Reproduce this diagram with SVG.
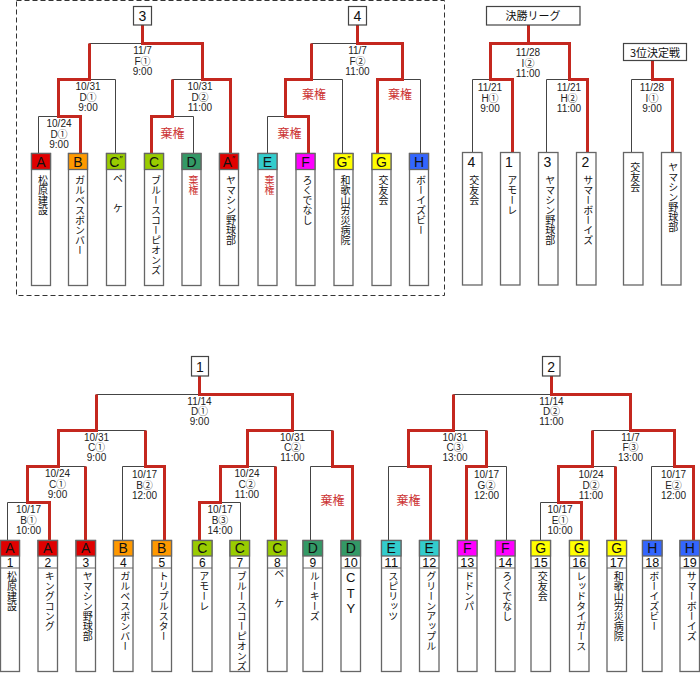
<svg xmlns="http://www.w3.org/2000/svg" width="700" height="673" viewBox="0 0 700 673">
<style>
.t{stroke:#444;stroke-width:1;fill:none}
.r{stroke:#c4281f;stroke-width:3;fill:none;stroke-linejoin:miter}
.bx{fill:#fff;stroke:#666;stroke-width:1.3}
.tb{fill:#fff;stroke:#444;stroke-width:1.2}
.dl{stroke:#666;stroke-width:1}
.d{font-family:"Liberation Sans","Noto Sans CJK JP",sans-serif;font-size:10px;fill:#222;text-anchor:middle}
.k{font-family:"Noto Sans CJK JP",sans-serif;font-size:12px;fill:#cc3333;text-anchor:middle}
.nm{font-family:"Noto Sans CJK JP",sans-serif;font-size:10px;fill:#111;writing-mode:vertical-rl;transform:translate(2px,0)}
.kn{fill:#cc3333}
.lt{font-family:"Liberation Sans",sans-serif;font-size:14px;fill:#111;text-anchor:middle}
.cty{font-family:"Liberation Sans",sans-serif;font-size:13px;fill:#111;text-anchor:middle}
.num{font-family:"Liberation Sans",sans-serif;font-size:12px;fill:#111;text-anchor:middle}
.ti{font-family:"Liberation Sans","Noto Sans CJK JP",sans-serif;font-size:14px;fill:#111;text-anchor:middle}
.tj{font-family:"Noto Sans CJK JP",sans-serif;font-size:11px;fill:#111;text-anchor:middle}
.cA{fill:#e00000;stroke:#666;stroke-width:1.3}
.cB{fill:#ff9900;stroke:#666;stroke-width:1.3}
.cC{fill:#99cc00;stroke:#666;stroke-width:1.3}
.cD{fill:#339966;stroke:#666;stroke-width:1.3}
.cE{fill:#33cccc;stroke:#666;stroke-width:1.3}
.cF{fill:#ff00ff;stroke:#666;stroke-width:1.3}
.cG{fill:#ffff00;stroke:#666;stroke-width:1.3}
.cH{fill:#3366ff;stroke:#666;stroke-width:1.3}
.sup{font-size:9px}
</style>
<rect x="0" y="0" width="700" height="673" fill="#fff"/>
<rect x="16.5" y="0.5" width="428" height="295" fill="none" stroke="#333" stroke-width="1" stroke-dasharray="5,3"/>

<g id="connectors">
<path class="t" d="M142.5 25V43.5M89.5 43.5H202.5M89.5 43.5V79.5M58.5 79.5H115.5V153M58.5 79.5V116.5M38.5 153V116.5H80.5V153M202.5 43.5V79.5M172.5 79.5H230.5V153M172.5 79.5V116.5M151.5 153V116.5H193.5V153"/>
<path class="t" d="M357.5 25V43.5M311.5 43.5H402.5M311.5 43.5V79.5M285.5 79.5H342.5V153M285.5 79.5V116.5M267.5 153V116.5H308.5V153M402.5 43.5V79.5M377.5 153V79.5H420.5V153"/>
<path class="t" d="M528.5 25V43.5M490.5 43.5H569.5M490.5 43.5V79.5M472.5 152V79.5H512.5V152M569.5 43.5V79.5M546.5 152V79.5H587.5V152M652.5 60.5V79.5M631.5 152V79.5H672.5V152"/>
<path class="t" d="M199.5 376V394.5M96.5 394.5H292.5M96.5 394.5V430.5M58.5 430.5H145.5M58.5 430.5V466.5M27.5 466.5H85.5V540M27.5 466.5V502.5M7.5 540V502.5H49.5V540M145.5 430.5V466.5M122.5 540V466.5H164.5V540M292.5 394.5V430.5M247.5 430.5H332.5M247.5 430.5V466.5M220.5 466.5H275.5V540M220.5 466.5V502.5M199.5 540V502.5H240.5V540M332.5 430.5V466.5M310.5 540V466.5H352.5V540"/>
<path class="t" d="M551.5 376V394.5M453.5 394.5H630.5M453.5 394.5V430.5M408.5 430.5H486.5M408.5 430.5V466.5M388.5 540V466.5H430.5V540M486.5 430.5V466.5M466.5 540V466.5H506.5V540M630.5 394.5V430.5M592.5 430.5H674.5M592.5 430.5V466.5M558.5 466.5H615.5V540M558.5 466.5V502.5M540.5 540V502.5H581.5V540M674.5 430.5V466.5M651.5 540V466.5H693.5V540"/>
<path class="r" d="M80.5 153V116.5H58.5V79.5H89.5V43.5"/>
<path class="r" d="M230.5 153V79.5H202.5V43.5H142.5V25"/>
<path class="r" d="M151.5 153V116.5H172.5V79.5"/>
<path class="r" d="M308.5 153V116.5H285.5V79.5H311.5V43.5"/>
<path class="r" d="M377.5 153V79.5H402.5V43.5H357.5V25"/>
<path class="r" d="M528.5 25V43.5"/>
<path class="r" d="M512.5 152V79.5H490.5V43.5H569.5V79.5H587.5V152"/>
<path class="r" d="M652.5 60.5V79.5H672.5V152"/>
<path class="r" d="M199.5 540V502.5H220.5V466.5H247.5V430.5H292.5V394.5H199.5V376"/>
<path class="r" d="M49.5 540V502.5H27.5V466.5H58.5V430.5H96.5V394.5"/>
<path class="r" d="M85.5 540V466.5"/>
<path class="r" d="M164.5 540V466.5H145.5V430.5"/>
<path class="r" d="M275.5 540V466.5"/>
<path class="r" d="M352.5 540V466.5H332.5V430.5"/>
<path class="r" d="M693.5 540V466.5H674.5V430.5H630.5V394.5H551.5V376"/>
<path class="r" d="M430.5 540V466.5H408.5V430.5H453.5V394.5"/>
<path class="r" d="M466.5 540V466.5H486.5V430.5"/>
<path class="r" d="M581.5 540V502.5H558.5V466.5H592.5V430.5"/>
<path class="r" d="M615.5 540V466.5"/>
</g>

<g id="match-labels">
<text class="d" x="142.5" y="54">11/7</text><text class="d" x="142.5" y="64.5">F①</text><text class="d" x="142.5" y="75">9:00</text>
<text class="d" x="88" y="90">10/31</text><text class="d" x="88" y="100.5">D①</text><text class="d" x="88" y="111">9:00</text>
<text class="d" x="59" y="127">10/24</text><text class="d" x="59" y="137.5">D①</text><text class="d" x="59" y="148">9:00</text>
<text class="d" x="200" y="90">10/31</text><text class="d" x="200" y="100.5">D②</text><text class="d" x="200" y="111">11:00</text>
<text class="k" x="172.5" y="137.5">棄権</text>
<text class="d" x="357.5" y="54">11/7</text><text class="d" x="357.5" y="64.5">F②</text><text class="d" x="357.5" y="75">11:00</text>
<text class="k" x="314" y="99">棄権</text>
<text class="k" x="289.5" y="137.5">棄権</text>
<text class="k" x="400" y="99">棄権</text>
<text class="d" x="528" y="56">11/28</text><text class="d" x="528" y="66.5">I②</text><text class="d" x="528" y="76.5">11:00</text>
<text class="d" x="490" y="91">11/21</text><text class="d" x="490" y="101.5">H①</text><text class="d" x="490" y="111.5">9:00</text>
<text class="d" x="569" y="91">11/21</text><text class="d" x="569" y="101.5">H②</text><text class="d" x="569" y="111.5">11:00</text>
<text class="d" x="652" y="91">11/28</text><text class="d" x="652" y="101.5">I①</text><text class="d" x="652" y="111.5">9:00</text>

<text class="d" x="199.5" y="404.5">11/14</text><text class="d" x="199.5" y="415">D①</text><text class="d" x="199.5" y="425">9:00</text>
<text class="d" x="551.5" y="404.5">11/14</text><text class="d" x="551.5" y="415">D②</text><text class="d" x="551.5" y="425">11:00</text>
<text class="d" x="96.5" y="440.5">10/31</text><text class="d" x="96.5" y="451">C①</text><text class="d" x="96.5" y="461">9:00</text>
<text class="d" x="292.5" y="440.5">10/31</text><text class="d" x="292.5" y="451">C②</text><text class="d" x="292.5" y="461">11:00</text>
<text class="d" x="455" y="440.5">10/31</text><text class="d" x="455" y="451">C③</text><text class="d" x="455" y="461">13:00</text>
<text class="d" x="630.5" y="440.5">11/7</text><text class="d" x="630.5" y="451">F③</text><text class="d" x="630.5" y="461">13:00</text>
<text class="d" x="57.5" y="477">10/24</text><text class="d" x="57.5" y="487.5">C①</text><text class="d" x="57.5" y="498">9:00</text>
<text class="d" x="144.5" y="478">10/17</text><text class="d" x="144.5" y="488.5">B②</text><text class="d" x="144.5" y="499">12:00</text>
<text class="d" x="247" y="477">10/24</text><text class="d" x="247" y="487.5">C②</text><text class="d" x="247" y="498">11:00</text>
<text class="d" x="486.5" y="478">10/17</text><text class="d" x="486.5" y="488.5">G②</text><text class="d" x="486.5" y="499">12:00</text>
<text class="d" x="591" y="478">10/24</text><text class="d" x="591" y="488.5">D②</text><text class="d" x="591" y="499">11:00</text>
<text class="d" x="673.5" y="478">10/17</text><text class="d" x="673.5" y="488.5">E②</text><text class="d" x="673.5" y="499">12:00</text>
<text class="d" x="28.5" y="513">10/17</text><text class="d" x="28.5" y="523.5">B①</text><text class="d" x="28.5" y="534">10:00</text>
<text class="d" x="220" y="513">10/17</text><text class="d" x="220" y="523.5">B③</text><text class="d" x="220" y="534">14:00</text>
<text class="d" x="560" y="513">10/17</text><text class="d" x="560" y="523.5">E①</text><text class="d" x="560" y="534">10:00</text>
<text class="k" x="332.5" y="505">棄権</text>
<text class="k" x="408.5" y="505">棄権</text>
</g>

<g id="title-3"><rect class="tb" x="133.5" y="6.5" width="18" height="18.5"/><text class="ti" x="142.5" y="21">3</text></g>
<g id="title-4"><rect class="tb" x="348.5" y="6.5" width="18" height="18.5"/><text class="ti" x="357.5" y="21">4</text></g>
<g id="title-final"><rect class="tb" x="486.5" y="6.5" width="93.5" height="18.5"/><text class="tj" x="533" y="20">決勝リーグ</text></g>
<g id="title-third"><rect class="tb" x="623.5" y="43.5" width="63" height="17"/><text class="tj" x="655" y="56.5">3位決定戦</text></g>
<g id="title-1"><rect class="tb" x="191.5" y="356.5" width="17" height="19.5"/><text class="ti" x="200" y="372">1</text></g>
<g id="title-2"><rect class="tb" x="542.5" y="356.5" width="17.5" height="19.5"/><text class="ti" x="551.25" y="372">2</text></g>

<g id="top-A"><rect class="bx" x="31.5" y="153.5" width="19" height="132"/><rect class="cA" x="31.5" y="153.5" width="19" height="16"/><text class="lt" x="41" y="167">A</text><text class="nm" x="41" y="175">松原建設</text></g>
<g id="top-B"><rect class="bx" x="68.5" y="153.5" width="19" height="132"/><rect class="cB" x="68.5" y="153.5" width="19" height="16"/><text class="lt" x="78" y="167">B</text><text class="nm" x="78" y="175">ガルベスボンバー</text></g>
<g id="top-C2"><rect class="bx" x="106.5" y="153.5" width="19" height="132"/><rect class="cC" x="106.5" y="153.5" width="19" height="16"/><text class="lt" x="116" y="167">C<tspan class="sup" dy="-5">″</tspan></text><text class="nm" x="116" y="173">ベ　　ケ</text></g>
<g id="top-C"><rect class="bx" x="144.5" y="153.5" width="19" height="132"/><rect class="cC" x="144.5" y="153.5" width="19" height="16"/><text class="lt" x="154" y="167">C</text><text class="nm" x="154" y="175">ブルースコーピオンズ</text></g>
<g id="top-D"><rect class="bx" x="182" y="153.5" width="19" height="132"/><rect class="cD" x="182" y="153.5" width="19" height="16"/><text class="lt" x="191.5" y="167">D</text><text class="nm kn" x="191.5" y="175">棄権</text></g>
<g id="top-A2"><rect class="bx" x="219.5" y="153.5" width="19" height="132"/><rect class="cA" x="219.5" y="153.5" width="19" height="16"/><text class="lt" x="229" y="167">A<tspan class="sup" dy="-5">″</tspan></text><text class="nm" x="229" y="175">ヤマシン野球部</text></g>
<g id="top-E"><rect class="bx" x="258" y="153.5" width="19" height="132"/><rect class="cE" x="258" y="153.5" width="19" height="16"/><text class="lt" x="267.5" y="167">E</text><text class="nm kn" x="267.5" y="175">棄権</text></g>
<g id="top-F"><rect class="bx" x="296" y="153.5" width="19" height="132"/><rect class="cF" x="296" y="153.5" width="19" height="16"/><text class="lt" x="305.5" y="167">F</text><text class="nm" x="305.5" y="175">ろくでなし</text></g>
<g id="top-G2"><rect class="bx" x="334" y="153.5" width="19" height="132"/><rect class="cG" x="334" y="153.5" width="19" height="16"/><text class="lt" x="343.5" y="167">G<tspan class="sup" dy="-5">″</tspan></text><text class="nm" x="343.5" y="175">和歌山労災病院</text></g>
<g id="top-G"><rect class="bx" x="372" y="153.5" width="19" height="132"/><rect class="cG" x="372" y="153.5" width="19" height="16"/><text class="lt" x="381.5" y="167">G</text><text class="nm" x="381.5" y="175">交友会</text></g>
<g id="top-H"><rect class="bx" x="409.5" y="153.5" width="19" height="132"/><rect class="cH" x="409.5" y="153.5" width="19" height="16"/><text class="lt" x="419" y="167">H</text><text class="nm" x="419" y="175">ボーイズビー</text></g>

<g id="final-4"><rect class="bx" x="462.5" y="152.5" width="19.5" height="132.5"/><text class="ti" x="471.5" y="166.5">4</text><text class="nm" x="472.25" y="175">交友会</text></g>
<g id="final-1"><rect class="bx" x="500.5" y="152.5" width="19.5" height="132.5"/><text class="ti" x="509" y="166.5">1</text><text class="nm" x="510.25" y="175">アモーレ</text></g>
<g id="final-3"><rect class="bx" x="538.5" y="152.5" width="19.5" height="132.5"/><text class="ti" x="547.5" y="166.5">3</text><text class="nm" x="548.25" y="175">ヤマシン野球部</text></g>
<g id="final-2"><rect class="bx" x="576.5" y="152.5" width="19.5" height="132.5"/><text class="ti" x="585.5" y="166.5">2</text><text class="nm" x="586.25" y="175">サマーボーイズ</text></g>
<g id="third-a"><rect class="bx" x="623.5" y="152.5" width="19.5" height="132.5"/><text class="nm" x="633.25" y="162">交友会</text></g>
<g id="third-b"><rect class="bx" x="661.5" y="152.5" width="19.5" height="132.5"/><text class="nm" x="671.25" y="162">ヤマシン野球部</text></g>

<g id="team-1"><rect class="bx" x="0.5" y="540.5" width="19" height="131"/><rect class="cA" x="0.5" y="540.5" width="19" height="15.5"/><line class="dl" x1="0.5" y1="568" x2="19.5" y2="568"/><text class="lt" x="10" y="552.5">A</text><text class="num" x="10" y="567">1</text><text class="nm" x="10" y="571">松原建設</text></g>
<g id="team-2"><rect class="bx" x="38" y="540.5" width="19.5" height="131"/><rect class="cA" x="38" y="540.5" width="19.5" height="15.5"/><line class="dl" x1="38" y1="568" x2="57.5" y2="568"/><text class="lt" x="47.75" y="552.5">A</text><text class="num" x="47.75" y="567">2</text><text class="nm" x="47.75" y="571">キングコング</text></g>
<g id="team-3"><rect class="bx" x="76" y="540.5" width="19.5" height="131"/><rect class="cA" x="76" y="540.5" width="19.5" height="15.5"/><line class="dl" x1="76" y1="568" x2="95.5" y2="568"/><text class="lt" x="85.75" y="552.5">A</text><text class="num" x="85.75" y="567">3</text><text class="nm" x="85.75" y="571">ヤマシン野球部</text></g>
<g id="team-4"><rect class="bx" x="113.5" y="540.5" width="19.5" height="131"/><rect class="cB" x="113.5" y="540.5" width="19.5" height="15.5"/><line class="dl" x1="113.5" y1="568" x2="133" y2="568"/><text class="lt" x="123.25" y="552.5">B</text><text class="num" x="123.25" y="567">4</text><text class="nm" x="123.25" y="571">ガルベスボンバー</text></g>
<g id="team-5"><rect class="bx" x="152" y="540.5" width="19.5" height="131"/><rect class="cB" x="152" y="540.5" width="19.5" height="15.5"/><line class="dl" x1="152" y1="568" x2="171.5" y2="568"/><text class="lt" x="161.75" y="552.5">B</text><text class="num" x="161.75" y="567">5</text><text class="nm" x="161.75" y="571">トリプルスター</text></g>
<g id="team-6"><rect class="bx" x="192.5" y="540.5" width="19.5" height="131"/><rect class="cC" x="192.5" y="540.5" width="19.5" height="15.5"/><line class="dl" x1="192.5" y1="568" x2="212" y2="568"/><text class="lt" x="202.25" y="552.5">C</text><text class="num" x="202.25" y="567">6</text><text class="nm" x="202.25" y="571">アモーレ</text></g>
<g id="team-7"><rect class="bx" x="230" y="540.5" width="19.5" height="131"/><rect class="cC" x="230" y="540.5" width="19.5" height="15.5"/><line class="dl" x1="230" y1="568" x2="249.5" y2="568"/><text class="lt" x="239.75" y="552.5">C</text><text class="num" x="239.75" y="567">7</text><text class="nm" x="239.75" y="571">ブルースコーピオンズ</text></g>
<g id="team-8"><rect class="bx" x="267.5" y="540.5" width="19.5" height="131"/><rect class="cC" x="267.5" y="540.5" width="19.5" height="15.5"/><line class="dl" x1="267.5" y1="568" x2="287" y2="568"/><text class="lt" x="277.25" y="552.5">C</text><text class="num" x="277.25" y="567">8</text><text class="nm" x="277.25" y="568">ベ　　ケ</text></g>
<g id="team-9"><rect class="bx" x="303" y="540.5" width="19.5" height="131"/><rect class="cD" x="303" y="540.5" width="19.5" height="15.5"/><line class="dl" x1="303" y1="568" x2="322.5" y2="568"/><text class="lt" x="312.75" y="552.5">D</text><text class="num" x="312.75" y="567">9</text><text class="nm" x="312.75" y="571">ルーキーズ</text></g>
<g id="team-10"><rect class="bx" x="341" y="540.5" width="19.5" height="131"/><rect class="cD" x="341" y="540.5" width="19.5" height="15.5"/><line class="dl" x1="341" y1="568" x2="360.5" y2="568"/><text class="lt" x="350.75" y="552.5">D</text><text class="num" x="350.75" y="567" textLength="14" lengthAdjust="spacingAndGlyphs">10</text><text class="cty" x="350.75"><tspan x="350.75" y="582">C</tspan><tspan x="350.75" y="597.5">T</tspan><tspan x="350.75" y="612.5">Y</tspan></text></g>
<g id="team-11"><rect class="bx" x="381.5" y="540.5" width="19.5" height="131"/><rect class="cE" x="381.5" y="540.5" width="19.5" height="15.5"/><line class="dl" x1="381.5" y1="568" x2="401" y2="568"/><text class="lt" x="391.25" y="552.5">E</text><text class="num" x="391.25" y="567" textLength="14" lengthAdjust="spacingAndGlyphs">11</text><text class="nm" x="391.25" y="571">スピリッツ</text></g>
<g id="team-12"><rect class="bx" x="419.5" y="540.5" width="19.5" height="131"/><rect class="cE" x="419.5" y="540.5" width="19.5" height="15.5"/><line class="dl" x1="419.5" y1="568" x2="439" y2="568"/><text class="lt" x="429.25" y="552.5">E</text><text class="num" x="429.25" y="567" textLength="14" lengthAdjust="spacingAndGlyphs">12</text><text class="nm" x="429.25" y="571">グリーンアップル</text></g>
<g id="team-13"><rect class="bx" x="457.5" y="540.5" width="19.5" height="131"/><rect class="cF" x="457.5" y="540.5" width="19.5" height="15.5"/><line class="dl" x1="457.5" y1="568" x2="477" y2="568"/><text class="lt" x="467.25" y="552.5">F</text><text class="num" x="467.25" y="567" textLength="14" lengthAdjust="spacingAndGlyphs">13</text><text class="nm" x="467.25" y="571">ドドンパ</text></g>
<g id="team-14"><rect class="bx" x="495.5" y="540.5" width="19.5" height="131"/><rect class="cF" x="495.5" y="540.5" width="19.5" height="15.5"/><line class="dl" x1="495.5" y1="568" x2="515" y2="568"/><text class="lt" x="505.25" y="552.5">F</text><text class="num" x="505.25" y="567" textLength="14" lengthAdjust="spacingAndGlyphs">14</text><text class="nm" x="505.25" y="571">ろくでなし</text></g>
<g id="team-15"><rect class="bx" x="531" y="540.5" width="19.5" height="131"/><rect class="cG" x="531" y="540.5" width="19.5" height="15.5"/><line class="dl" x1="531" y1="568" x2="550.5" y2="568"/><text class="lt" x="540.75" y="552.5">G</text><text class="num" x="540.75" y="567" textLength="14" lengthAdjust="spacingAndGlyphs">15</text><text class="nm" x="540.75" y="571">交友会</text></g>
<g id="team-16"><rect class="bx" x="569.5" y="540.5" width="19.5" height="131"/><rect class="cG" x="569.5" y="540.5" width="19.5" height="15.5"/><line class="dl" x1="569.5" y1="568" x2="589" y2="568"/><text class="lt" x="579.25" y="552.5">G</text><text class="num" x="579.25" y="567" textLength="14" lengthAdjust="spacingAndGlyphs">16</text><text class="nm" x="579.25" y="571">レッドタイガース</text></g>
<g id="team-17"><rect class="bx" x="607" y="540.5" width="19.5" height="131"/><rect class="cG" x="607" y="540.5" width="19.5" height="15.5"/><line class="dl" x1="607" y1="568" x2="626.5" y2="568"/><text class="lt" x="616.75" y="552.5">G</text><text class="num" x="616.75" y="567" textLength="14" lengthAdjust="spacingAndGlyphs">17</text><text class="nm" x="616.75" y="571">和歌山労災病院</text></g>
<g id="team-18"><rect class="bx" x="642.5" y="540.5" width="19.5" height="131"/><rect class="cH" x="642.5" y="540.5" width="19.5" height="15.5"/><line class="dl" x1="642.5" y1="568" x2="662" y2="568"/><text class="lt" x="652.25" y="552.5">H</text><text class="num" x="652.25" y="567" textLength="14" lengthAdjust="spacingAndGlyphs">18</text><text class="nm" x="652.25" y="571">ボーイズビー</text></g>
<g id="team-19"><rect class="bx" x="680" y="540.5" width="19.5" height="131"/><rect class="cH" x="680" y="540.5" width="19.5" height="15.5"/><line class="dl" x1="680" y1="568" x2="699.5" y2="568"/><text class="lt" x="689.75" y="552.5">H</text><text class="num" x="689.75" y="567" textLength="14" lengthAdjust="spacingAndGlyphs">19</text><text class="nm" x="689.75" y="571">サマーボーイズ</text></g>
</svg>
